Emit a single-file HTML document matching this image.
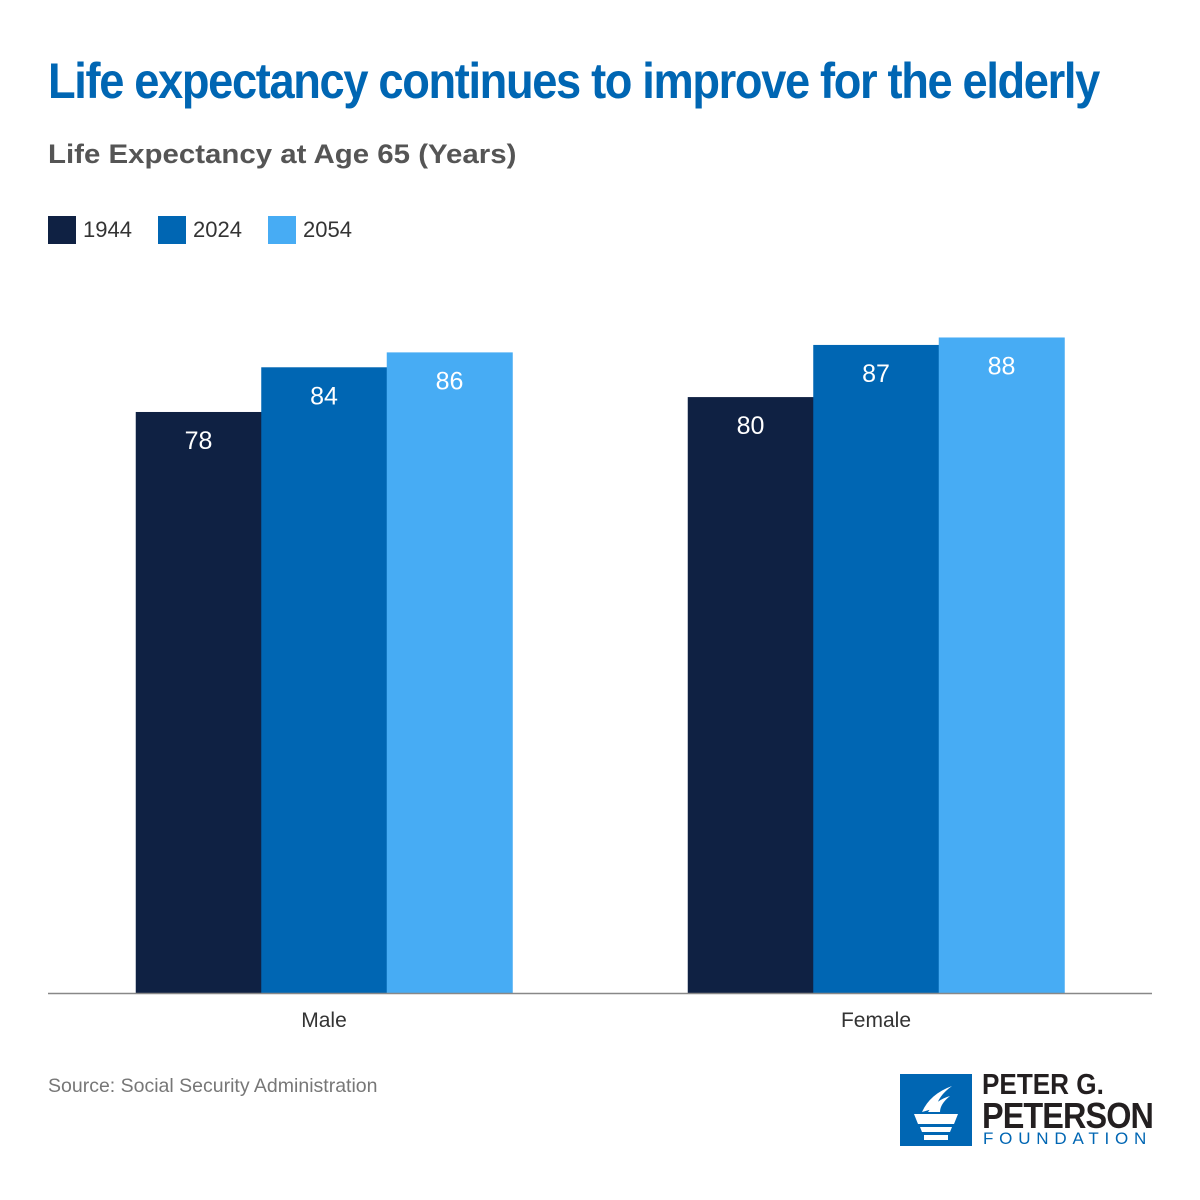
<!DOCTYPE html>
<html><head><meta charset="utf-8"><style>
body{margin:0;width:1200px;height:1200px;background:#fff;font-family:"Liberation Sans",sans-serif;position:relative;overflow:hidden}
.abs{position:absolute;white-space:nowrap}
</style></head><body>
<div class="abs" style="left:48px;top:52px;font-size:50px;font-weight:bold;color:#0066b3;letter-spacing:-1.5px;transform:scaleX(0.905);transform-origin:left">Life expectancy continues to improve for the elderly</div>
<div class="abs" style="left:48px;top:139px;font-size:27px;font-weight:bold;color:#555;transform:scaleX(1.09);transform-origin:left">Life Expectancy at Age 65 (Years)</div>
<div class="abs" style="left:48px;top:216px;font-size:22px;color:#333"><span style="display:inline-block;width:28px;height:28px;background:#0f2143;vertical-align:middle;margin-right:7px"></span><span style="vertical-align:middle">1944</span></div>
<div class="abs" style="left:158px;top:216px;font-size:22px;color:#333"><span style="display:inline-block;width:28px;height:28px;background:#0066b3;vertical-align:middle;margin-right:7px"></span><span style="vertical-align:middle">2024</span></div>
<div class="abs" style="left:268px;top:216px;font-size:22px;color:#333"><span style="display:inline-block;width:28px;height:28px;background:#47acf4;vertical-align:middle;margin-right:7px"></span><span style="vertical-align:middle">2054</span></div>
<svg id="chart" width="1200" height="1200" style="position:absolute;left:0;top:0"></svg>
<div class="abs" style="left:48px;top:1075px;font-size:19.5px;color:#777">Source: Social Security Administration</div>
<div class="abs" style="left:900px;top:1074px;width:72px;height:72px;background:#0066b3">
<svg width="72" height="72"><path d="M22 38 Q30 20 52 12 Q38 22 36 34 Z M28 38 Q36 26 50 22 Q40 30 40 38Z" fill="#fff"/><path d="M14 40 H58 L54 50 H18 Z M20 53 H52 L50 58 H22 Z M24 61 H48 V66 H24Z" fill="#fff"/></svg></div>
<div class="abs" style="left:982px;top:1069px;font-size:29px;font-weight:bold;color:#231f20;transform:scaleX(0.9);transform-origin:left">PETER G.</div>
<div class="abs" style="left:982px;top:1095px;font-size:36px;font-weight:bold;color:#231f20;letter-spacing:-1px;transform:scaleX(0.9);transform-origin:left">PETERSON</div>
<div class="abs" style="left:983px;top:1129px;font-size:17px;color:#0066b3;letter-spacing:5.8px">FOUNDATION</div>
<script>
const categories=["Male","Female"];
const seriesNames=["1944","2024","2054"];
const s1944=[78,80];
const s2024=[84,87];
const s2054=[86,88];
const series=[s1944,s2024,s2054];
const colors=["#0f2143","#0066b3","#47acf4"];
const svg=document.getElementById('chart');
const NS="http://www.w3.org/2000/svg";
const base=993, pxPer=7.449;
const y=v=>base-v*pxPer;
const groupCenter=i=>324+i*552;
const bw=125.5;
categories.forEach((c,i)=>{
  series.forEach((s,j)=>{
    const x=groupCenter(i)+(j-1.5)*bw;
    const r=document.createElementNS(NS,'rect');
    r.setAttribute('x',x);r.setAttribute('y',y(s[i]));
    r.setAttribute('width',bw+0.5);r.setAttribute('height',base-y(s[i]));
    r.setAttribute('fill',colors[j]);
    
    
    svg.appendChild(r);
    const t=document.createElementNS(NS,'text');
    t.setAttribute('x',x+bw/2);t.setAttribute('y',y(s[i])+37);
    t.setAttribute('text-anchor','middle');t.setAttribute('fill','#fff');
    t.setAttribute('font-size','25');t.setAttribute('font-family','Liberation Sans, sans-serif');
    t.textContent=s[i];
    
    
    svg.appendChild(t);
  });
  const l=document.createElementNS(NS,'text');
  l.setAttribute('x',groupCenter(i));l.setAttribute('y',1027);
  l.setAttribute('text-anchor','middle');l.setAttribute('fill','#333');
  l.setAttribute('font-size','21');l.setAttribute('font-family','Liberation Sans, sans-serif');
  l.textContent=c;
  
  
  svg.appendChild(l);
});
const ax=document.createElementNS(NS,'line');
ax.setAttribute('x1',48);ax.setAttribute('x2',1152);ax.setAttribute('y1',993.5);ax.setAttribute('y2',993.5);
ax.setAttribute('stroke','#888');ax.setAttribute('stroke-width','1.5');


svg.appendChild(ax);
</script>
</body></html>
